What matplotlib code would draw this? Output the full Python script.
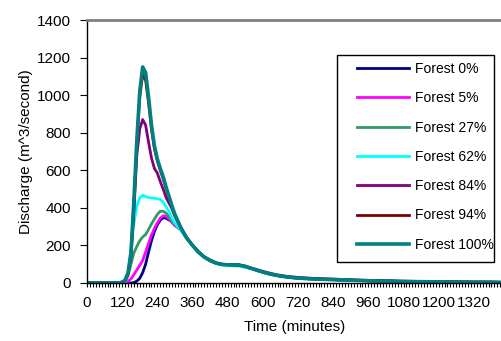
import matplotlib
matplotlib.use("Agg")
import matplotlib.pyplot as plt
from matplotlib.patches import Rectangle
from matplotlib.ticker import MultipleLocator

plt.rcParams['font.family'] = ['Liberation Sans', 'DejaVu Sans']

time = [0, 100, 110, 120, 130, 140, 150, 160, 170, 180, 190, 200, 210, 220, 230, 240,
        250, 260, 270, 280, 290, 300, 320, 340, 360, 380, 400, 420, 440, 460, 480, 500,
        520, 540, 560, 580, 600, 630, 660, 690, 720, 780, 840, 900, 960, 1020, 1080,
        1140, 1200, 1260, 1320, 1380, 1420]

tail = [240, 200, 165, 138, 120, 106, 99, 97, 96, 95, 88, 78, 68, 58, 46, 37, 31, 26,
        21, 18, 15, 12, 10, 8, 7, 6, 5, 4, 4, 3]

forest_0 = [0, 0, 0, 0, 0, 0, 0, 2, 10, 25, 55, 100, 165, 225, 275, 310, 335, 348, 345,
            335, 332, 312, 283] + tail
forest_5 = [0, 0, 0, 0, 2, 8, 22, 45, 70, 95, 120, 165, 210, 255, 290, 320, 345, 358, 355,
            340, 322, 305, 284] + tail
forest_27 = [0, 0, 0, 2, 8, 40, 100, 160, 195, 225, 245, 258, 285, 315, 340, 365, 382, 382,
             372, 352, 330, 312, 286] + tail
forest_62 = [0, 0, 0, 3, 10, 45, 185, 315, 410, 452, 468, 460, 455, 452, 452, 448, 445, 430,
             405, 380, 345, 318, 282, 236, 198, 163, 136, 118, 104, 96, 92, 91, 89, 84, 76,
             66, 57, 45, 36, 30, 25, 20, 17, 14, 11, 9, 8, 7, 6, 5, 4, 4, 3]
forest_84 = [0, 0, 0, 4, 12, 45, 140, 380, 680, 820, 870, 840, 750, 665, 610, 585, 540, 500,
             455, 425, 395, 355, 295, 242, 202, 167, 140, 122, 108, 100, 98, 97, 96, 90, 80,
             71, 62, 50, 40, 34, 30, 24, 21, 17, 14, 12, 10, 8, 7, 6, 5, 4, 4]
forest_94 = [0, 0, 0, 5, 14, 50, 150, 420, 740, 990, 1110, 1080, 960, 820, 715, 650, 600, 555,
             505, 455, 405, 362, 294] + tail
forest_100 = [0, 0, 0, 5, 15, 55, 160, 440, 760, 1020, 1150, 1120, 990, 840, 730, 660, 610,
              565, 510, 460, 410, 365, 295] + tail

labels = ["Forest 0%", "Forest 5%", "Forest 27%", "Forest 62%", "Forest 84%",
          "Forest 94%", "Forest 100%"]
series = [forest_0, forest_5, forest_27, forest_62, forest_84, forest_94, forest_100]
colors = ["#000080", "#FF00FF", "#339966", "#00FFFF", "#800080", "#800000", "#008080"]
widths = [2.0, 2.0, 2.0, 2.0, 2.0, 2.0, 2.6]

fig = plt.figure(figsize=(5.02, 3.41), dpi=100)
ax = fig.add_axes([87 / 502, 1 - 283 / 341, (502 - 87) / 502, (283 - 20) / 341])

handles = []
for s, c, w, lab in zip(series, colors, widths, labels):
    h, = ax.plot(time, s, color=c, lw=w, label=lab, solid_joinstyle='round')
    handles.append(h)

ax.set_xlim(0, 1416)
ax.set_ylim(0, 1400)
ax.xaxis.set_major_locator(MultipleLocator(120))
ax.xaxis.set_minor_locator(MultipleLocator(10))
ax.yaxis.set_major_locator(MultipleLocator(200))
ax.tick_params(axis='x', which='both', direction='out', length=3, width=0.8,
               labelsize=11, pad=6.5)
ax.tick_params(axis='y', which='major', direction='out', length=5, width=0.8,
               labelsize=11, pad=6.5)
for sp in ['left', 'bottom']:
    ax.spines[sp].set_color('black')
    ax.spines[sp].set_linewidth(1.0)
ax.spines['top'].set_color('#808080')
ax.spines['top'].set_linewidth(2.0)
ax.spines['right'].set_visible(False)

ax.set_xlabel("Time (minutes)", fontsize=11, labelpad=7)
ax.set_ylabel("Discharge (m^3/second)", fontsize=11, labelpad=3)

# legend frame
ax.add_patch(Rectangle(((337 - 87) / 415, (283 - 262) / 263), (494 - 337) / 415,
                       (262 - 55) / 263, transform=ax.transAxes, fill=True,
                       facecolor='white', edgecolor='black', lw=1.0, zorder=5))
leg = ax.legend(handles=handles, loc='upper left',
                bbox_to_anchor=((357 - 87) / 415, (283 - 62) / 263),
                frameon=False, fontsize=10, borderpad=0, borderaxespad=0,
                handlelength=3.75, handletextpad=0.4, labelspacing=1.1)
leg.set_zorder(6)

fig.savefig("out.png", dpi=100)
